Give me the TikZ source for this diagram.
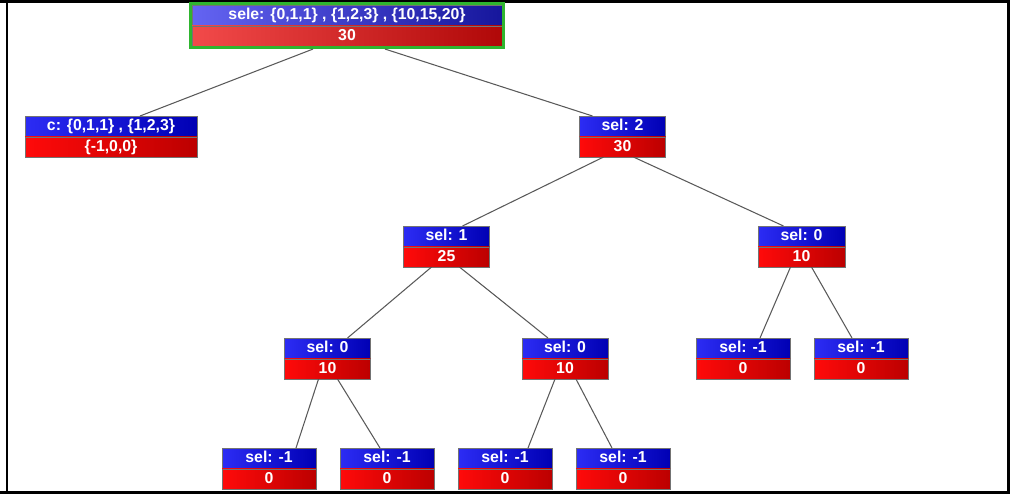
\documentclass[tikz,border=0pt]{standalone}
\usepackage{fontspec}
\setmainfont{Liberation Sans}
\usetikzlibrary{fit}

\definecolor{blueL}{HTML}{2C2CF4}
\definecolor{blueR}{HTML}{0000B4}
\definecolor{redL}{HTML}{FF0A0A}
\definecolor{redR}{HTML}{BC0000}
\definecolor{rblueL}{HTML}{6464F2}
\definecolor{rblueR}{HTML}{16169C}
\definecolor{rredL}{HTML}{F24A4A}
\definecolor{rredR}{HTML}{B00808}
\definecolor{selgreen}{HTML}{2FB52F}

\begin{document}
\begin{tikzpicture}[x=0.02cm,y=-0.02cm,
  font=\fontsize{9}{10}\selectfont\bfseries,
  bar/.style={draw=black!55,line width=0.3pt,text=white,anchor=north,inner sep=0pt,
    minimum height=0.4cm,text height=6.5pt,text depth=1.4pt,minimum width=#1},
  lab/.style={bar=#1,left color=blueL,right color=blueR},
  val/.style={bar=#1,left color=redL,right color=redR},
  rlab/.style={bar=#1,left color=rblueL,right color=rblueR},
  rval/.style={bar=#1,left color=rredL,right color=rredR},
  edge/.style={draw=black!65,line width=0.6pt}]
\useasboundingbox (0,0) rectangle (1010,494);

% frame
\draw[line width=0.06cm] (0,1)--(1010,1);
\draw[line width=0.06cm] (0,492)--(1010,492);
\draw[line width=0.06cm] (7,0)--(7,494);
\draw[line width=0.06cm] (1008,0)--(1008,494);

% root
\node[rlab=6.2cm] (root) at(347,5) {sele: \{0,1,1\} , \{1,2,3\} , \{10,15,20\}};
\node[rval=6.2cm] (rootv) at(root.south) {30};
\node[draw=selgreen,line width=0.06cm,inner sep=0.03cm,fit=(root)(rootv)] (rootsel) {};

% level 1
\node[lab=3.44cm] (c) at(111,116) {c: \{0,1,1\} , \{1,2,3\}};
\node[val=3.44cm] (cv) at(c.south) {\{-1,0,0\}};

\node[lab=1.72cm] (s2) at(622.5,116) {sel: 2};
\node[val=1.72cm] (s2v) at(s2.south) {30};

% level 2
\node[lab=1.72cm] (s1) at(446.5,226) {sel: 1};
\node[val=1.72cm] (s1v) at(s1.south) {25};

\node[lab=1.74cm] (s0r) at(801.5,226) {sel: 0};
\node[val=1.74cm] (s0rv) at(s0r.south) {10};

% level 3
\node[lab=1.72cm] (s0a) at(327.5,338) {sel: 0};
\node[val=1.72cm] (s0av) at(s0a.south) {10};

\node[lab=1.72cm] (s0b) at(565,338) {sel: 0};
\node[val=1.72cm] (s0bv) at(s0b.south) {10};

\node[lab=1.88cm] (m1e) at(743,338) {sel: -1};
\node[val=1.88cm] (m1ev) at(m1e.south) {0};

\node[lab=1.88cm] (m1f) at(861,338) {sel: -1};
\node[val=1.88cm] (m1fv) at(m1f.south) {0};

% level 4
\node[lab=1.88cm] (m1a) at(269,448) {sel: -1};
\node[val=1.88cm] (m1av) at(m1a.south) {0};

\node[lab=1.88cm] (m1b) at(387,448) {sel: -1};
\node[val=1.88cm] (m1bv) at(m1b.south) {0};

\node[lab=1.88cm] (m1c) at(505,448) {sel: -1};
\node[val=1.88cm] (m1cv) at(m1c.south) {0};

\node[lab=1.88cm] (m1d) at(623,448) {sel: -1};
\node[val=1.88cm] (m1dv) at(m1d.south) {0};

% edges
\draw[edge] ([xshift=-0.68cm]rootsel.south) -- ([xshift=0.58cm]c.north);
\draw[edge] ([xshift=0.76cm]rootsel.south) -- ([xshift=-0.6cm]s2.north);

\draw[edge] ([xshift=-0.38cm]s2v.south) -- ([xshift=0.32cm]s1.north);
\draw[edge] ([xshift=0.22cm]s2v.south) -- ([xshift=-0.36cm]s0r.north);

\draw[edge] ([xshift=-0.3cm]s1v.south) -- ([xshift=0.4cm]s0a.north);
\draw[edge] ([xshift=0.26cm]s1v.south) -- ([xshift=-0.34cm]s0b.north);

\draw[edge] ([xshift=-0.22cm]s0rv.south) -- ([xshift=0.34cm]m1e.north);
\draw[edge] ([xshift=0.2cm]s0rv.south) -- ([xshift=-0.18cm]m1f.north);

\draw[edge] ([xshift=-0.18cm]s0av.south) -- ([xshift=0.54cm]m1a.north);
\draw[edge] ([xshift=0.2cm]s0av.south) -- ([xshift=-0.14cm]m1b.north);

\draw[edge] ([xshift=-0.2cm]s0bv.south) -- ([xshift=0.46cm]m1c.north);
\draw[edge] ([xshift=0.22cm]s0bv.south) -- ([xshift=-0.22cm]m1d.north);

\end{tikzpicture}
\end{document}
